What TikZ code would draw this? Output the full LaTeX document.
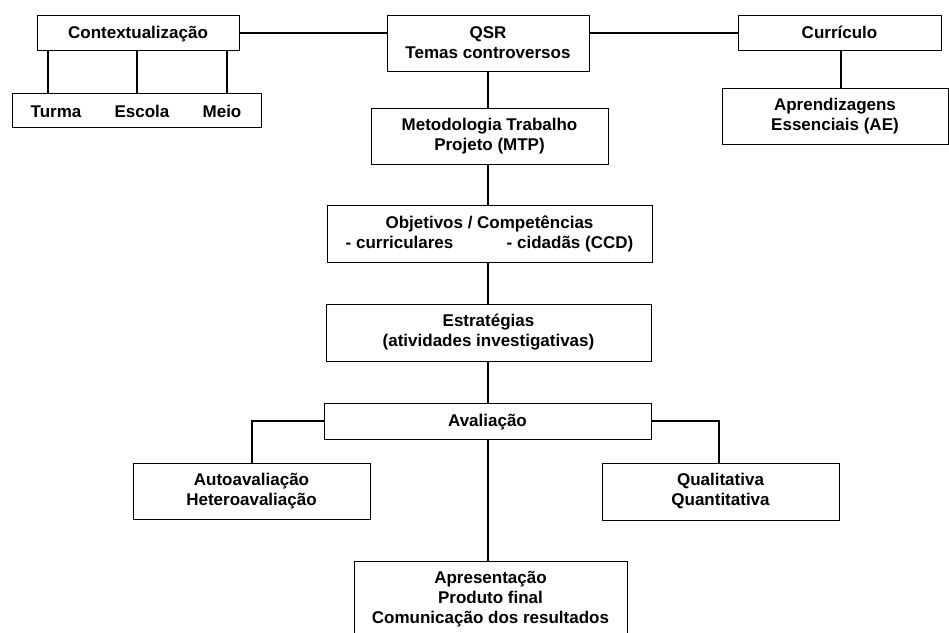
\documentclass[tikz,border=0pt]{standalone}
\usepackage{fontspec}
\setmainfont{Liberation Sans}
\usetikzlibrary{calc}
\begin{document}
\begin{tikzpicture}[x=0.75pt,y=-0.75pt,
  txt/.style={inner sep=0pt, align=center, font=\fontsize{12.75}{15}\selectfont\bfseries},
  one/.style={text height=9.2pt, text depth=0.5pt},
  box/.style={txt, draw, line width=0.75pt},
  conn/.style={line width=1.5pt}]
\useasboundingbox (0,0) rectangle (949,632);
% top row
\node[box, one, minimum width=151.5pt, minimum height=26.25pt] (ctx) at (138,32.5) {Contextualização};
\node[box, minimum width=186.75pt, minimum height=25.5pt] (tem) at (136.5,110) {};
\node[txt, one] (turma) at (56,111.5) {Turma};
\node[txt, one] (escola) at (142,111.5) {Escola};
\node[txt, one] (meio) at (222,111.5) {Meio};
\node[box, minimum width=151.5pt, minimum height=42pt] (qsr) at (488,43) {QSR\\Temas controversos};
\node[box, one, minimum width=152.25pt, minimum height=26.25pt] (cur) at (839.5,32.5) {Currículo};
\node[box, minimum width=169.5pt, minimum height=42pt] (ae) at (835,116) {Aprendizagens\\Essenciais (AE)};
% main column
\node[box, minimum width=177.75pt, minimum height=42pt] (mtp) at (489.5,136) {Metodologia Trabalho\\Projeto (MTP)};
\node[box, minimum width=243.75pt, minimum height=42.75pt] (obj) at (489.5,233.5) {Objetivos / Competências\\- curriculares\hspace{40pt}- cidadãs (CCD)};
\node[box, minimum width=243.75pt, minimum height=42.75pt] (est) at (488.5,332.5) {Estratégias\\(atividades investigativas)};
\node[box, one, minimum width=245.25pt, minimum height=27pt] (ava) at (487.5,421) {Avaliação};
\node[box, minimum width=177.75pt, minimum height=42pt] (auto) at (251.5,491) {Autoavaliação\\Heteroavaliação};
\node[box, minimum width=177.75pt, minimum height=42.75pt] (qual) at (720.5,491.5) {Qualitativa\\Quantitativa};
\node[box, minimum width=204.75pt, minimum height=57pt] (apr) at (490.5,599) {Apresentação\\Produto final\\Comunicação dos resultados};
% connector anchor points
\coordinate (c1) at ($(ctx.south west)+(11,0)$);
\coordinate (c2) at ($(ctx.south west)+(100,0)$);
\coordinate (c3) at ($(ctx.south west)+(190,0)$);
\coordinate (c4) at ($(cur.south)+(1.5,0)$);
\coordinate (c5) at ($(qual.north)+(-1.5,0)$);
% connectors
\draw[conn] (ctx.east) -- (ctx.east -| qsr.west);
\draw[conn] (cur.west) -- (cur.west -| qsr.east);
\draw[conn] (c1) -- (c1 |- tem.north);
\draw[conn] (c2) -- (c2 |- tem.north);
\draw[conn] (c3) -- (c3 |- tem.north);
\draw[conn] (c4) -- (c4 |- ae.north);
\draw[conn] (qsr.south) -- (qsr.south |- mtp.north);
\draw[conn] (qsr.south |- mtp.south) -- (qsr.south |- obj.north);
\draw[conn] (qsr.south |- obj.south) -- (qsr.south |- est.north);
\draw[conn] (qsr.south |- est.south) -- (qsr.south |- ava.north);
\draw[conn] (qsr.south |- ava.south) -- (qsr.south |- apr.north);
\draw[conn] (ava.west) -- (auto.north |- ava.west) -- (auto.north);
\draw[conn] (ava.east) -- (c5 |- ava.east) -- (c5);
\end{tikzpicture}
\end{document}
